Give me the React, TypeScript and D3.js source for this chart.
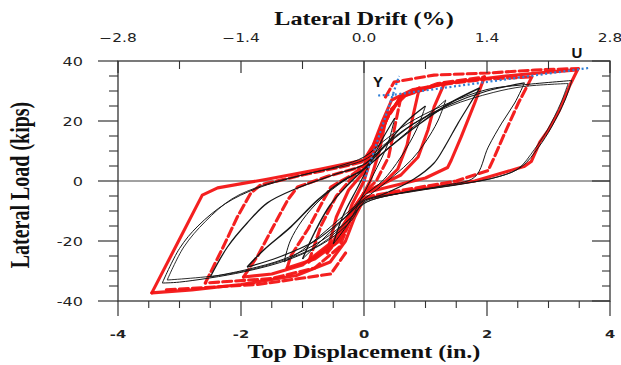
import * as d3 from 'd3'

type Pt = [number, number]

// axis ticks
const dispTicks = [-4, -2, 0, 2, 4]
const dispMinor = [-3.5, -3, -2.5, -1.5, -1, -0.5, 0.5, 1, 1.5, 2.5, 3, 3.5]
const driftTicks = [-2.8, -1.4, 0, 1.4, 2.8]
const driftMinor = [-2.1, -0.7, 0.7, 2.1]
const loadTicks = [-40, -20, 0, 20, 40]
const loadMinor = [-35, -30, -25, -15, -10, -5, 5, 10, 15, 25, 30, 35]

// analytical (black) branches: [disp in., load kips]
const bUp335: Pt[] = [[-3.28, -34], [-3.0, -22.5], [-2.7, -15], [-2.25, -7.5], [-1.75, -2.5], [-1.0, 2], [-0.4, 5], [0, 8], [0.3, 13], [0.7, 19], [1.3, 25.3], [2.0, 30.5], [2.56, 32], [3.38, 33.5]]
const bDown335: Pt[] = [[3.38, 33.5], [3.27, 27], [3.05, 18], [2.84, 11.3], [2.56, 4.7], [2.2, 1.5], [1.6, -1], [0.8, -3.5], [0, -7], [-0.2, -13], [-0.6, -20], [-1.2, -26], [-1.96, -30.3], [-3.0, -33.7], [-3.28, -34]]
const bUp335b: Pt[] = [[-3.2, -33], [-2.93, -22], [-2.58, -13.5], [-2.15, -6], [-1.65, -1.5], [-0.9, 2.5], [0, 7], [0.35, 12.5], [0.8, 19], [1.4, 25], [2.1, 29.5], [2.6, 31.5], [3.32, 32.5]]
const bDown335b: Pt[] = [[3.32, 32.5], [3.2, 26], [2.98, 17], [2.77, 10.5], [2.5, 4], [2.1, 1], [1.4, -1.5], [0.6, -4], [0, -7.5], [-0.25, -13], [-0.7, -21], [-1.4, -27], [-2.2, -31], [-3.2, -33]]
const bUp26: Pt[] = [[-2.5, -32], [-2.22, -22], [-1.9, -14], [-1.57, -7.3], [-1.1, -2.5], [-0.5, 2], [0, 5.5], [0.3, 11], [0.8, 19], [1.4, 25.5], [2.0, 30], [2.61, 32.7]]
const bDown26: Pt[] = [[2.61, 32.7], [2.45, 26], [2.24, 19.3], [2.02, 11.3], [1.8, 1.3], [1.3, -1.5], [0.6, -4], [0, -7.5], [-0.2, -12], [-0.7, -20], [-1.3, -26], [-1.9, -29.5], [-2.5, -32]]
const bUp19: Pt[] = [[-1.9, -28.7], [-1.63, -23], [-1.19, -15.3], [-0.75, -6.3], [-0.33, 0.3], [0, 4], [0.4, 11], [0.9, 19], [1.4, 26], [1.88, 31]]
const bDown19: Pt[] = [[1.88, 31], [1.7, 25], [1.53, 19.3], [1.31, 11.3], [1.14, 6], [0.8, 0.5], [0.3, -4.5], [0, -6.5], [-0.3, -12], [-0.8, -20], [-1.4, -25.5], [-1.9, -28.7]]
const bUp13: Pt[] = [[-1.3, -27], [-1.2, -20], [-1.0, -13], [-0.7, -6], [-0.33, 0], [0, 4], [0.4, 11], [0.8, 18], [1.1, 23], [1.33, 27]]
const bDown13: Pt[] = [[1.33, 27], [1.2, 20], [1.0, 13], [0.77, 7], [0.5, 2], [0.2, -3], [0, -6], [-0.3, -11], [-0.7, -18], [-1.0, -23], [-1.3, -27]]
const bUp10: Pt[] = [[-1.0, -26], [-0.8, -17], [-0.55, -8], [-0.25, -1], [0, 4], [0.35, 12], [0.7, 20], [1.0, 25]]
const bDown10: Pt[] = [[1.0, 25], [0.85, 17], [0.6, 8], [0.3, 0], [0, -5], [-0.3, -12], [-0.65, -19], [-1.0, -26]]
const bUp05: Pt[] = [[-0.5, -21], [-0.35, -12], [-0.1, -2], [0.1, 6], [0.3, 14], [0.5, 21]]
const bDown05: Pt[] = [[0.5, 21], [0.38, 12], [0.15, 2], [-0.05, -6], [-0.25, -14], [-0.5, -21]]

// experimental (red) branches
const rUp345: Pt[] = [[-3.45, -37.3], [-3.04, -21], [-2.63, -4.7], [-2.38, -2.3], [-1.6, 0.5], [-0.7, 4], [0, 7], [0.15, 12], [0.3, 20], [0.45, 27], [0.8, 30.5], [1.5, 33], [2.3, 35], [3.0, 36.3], [3.47, 37]]
const rDown345: Pt[] = [[3.47, 37], [3.35, 32], [3.18, 23.7], [3.0, 17], [2.86, 13], [2.72, 6.5], [2.6, 4.8], [1.8, 0], [0.8, -3], [0, -6], [-0.15, -12], [-0.3, -20], [-0.55, -27], [-1.1, -31.5], [-2.0, -34.5], [-2.8, -36.3], [-3.45, -37.3]]
const rUp27: Pt[] = [[-2.58, -34], [-2.29, -22], [-2.06, -12], [-1.84, -4], [-1.68, -1.3], [-1.0, 2], [-0.3, 5], [0, 6.5], [0.2, 13], [0.4, 22], [0.6, 28], [1.2, 32], [2.0, 34], [2.73, 34.7]]
const rDown27: Pt[] = [[2.73, 34.7], [2.51, 26], [2.29, 16], [2.12, 8], [2.02, 3.5], [1.5, 0], [0.5, -3.5], [0, -5.5], [-0.2, -12], [-0.4, -22], [-0.8, -29], [-1.5, -32.5], [-2.58, -34]]
const rUp196: Pt[] = [[-1.96, -32], [-1.73, -25], [-1.47, -15], [-1.24, -6.3], [-1.08, -2], [-0.6, 1.5], [0, 5], [0.2, 12], [0.35, 20], [0.6, 28], [1.2, 32.5], [1.96, 34.7]]
const rDown196: Pt[] = [[1.96, 34.7], [1.8, 26], [1.58, 14.7], [1.42, 7], [1.36, 4.5], [1.0, 1], [0.4, -2], [0, -4], [-0.2, -10], [-0.5, -20], [-1.0, -28], [-1.5, -31], [-1.96, -32]]
const rUp13: Pt[] = [[-1.25, -29], [-1.19, -25], [-0.91, -16], [-0.65, -6], [-0.54, -2], [-0.2, 2], [0, 5], [0.2, 14], [0.4, 23], [0.7, 29], [1.31, 32.7]]
const rDown13: Pt[] = [[1.31, 32.7], [1.14, 24.7], [1.04, 17], [0.88, 8], [0.6, 2], [0.2, -2], [0, -4], [-0.15, -10], [-0.4, -20], [-0.8, -26], [-1.25, -29]]
const rUp09: Pt[] = [[-0.9, -27], [-0.7, -15], [-0.45, -5], [-0.2, 1], [0, 4], [0.2, 13], [0.4, 22], [0.6, 28], [0.9, 31]]
const rDown09: Pt[] = [[0.9, 31], [0.8, 22], [0.7, 12], [0.55, 4], [0.3, -1], [0, -4], [-0.2, -10], [-0.45, -20], [-0.9, -27]]
const rUp06: Pt[] = [[-0.6, -24], [-0.45, -12], [-0.25, -3], [0, 3], [0.2, 12], [0.4, 22], [0.6, 28]]
const rDown06: Pt[] = [[0.6, 28], [0.5, 18], [0.4, 8], [0.2, 0], [0, -4], [-0.2, -12], [-0.4, -19], [-0.6, -24]]
const rUp035: Pt[] = [[-0.35, -18], [-0.2, -8], [0, 0], [0.15, 10], [0.35, 20]]
const rDown035: Pt[] = [[0.35, 20], [0.25, 10], [0.1, 0], [-0.1, -8], [-0.35, -18]]
const rTopEnv: Pt[] = [[0.35, 28], [0.49, 33], [1.14, 35.3], [2.02, 36], [2.78, 37], [3.49, 37.5]]
const rBotEnv: Pt[] = [[-0.3, -24], [-0.54, -31], [-1.73, -34.5], [-3.27, -36.3]]

// bilinear idealisation (blue dotted)
const blueElastic: Pt[] = [[0, 0], [0.57, 35]]
const blueYield: Pt[] = [[0.23, 28.5], [0.52, 28.8]]
const bluePlastic: Pt[] = [[0.5, 28.8], [3.66, 37.7]]

const blackSet = [
  { pts: bUp335, w: 1 }, { pts: bDown335, w: 1 },
  { pts: bUp335b, w: 0.9 }, { pts: bDown335b, w: 0.9 },
  { pts: bUp26, w: 1.3 }, { pts: bDown26, w: 1 },
  { pts: bUp19, w: 1.5 }, { pts: bDown19, w: 1.2 },
  { pts: bUp13, w: 1 }, { pts: bDown13, w: 1 },
  { pts: bUp10, w: 1.4 }, { pts: bDown10, w: 1 },
  { pts: bUp05, w: 1.2 }, { pts: bDown05, w: 1 },
]

const redSet = [
  { pts: rUp345, dash: false }, { pts: rDown345, dash: false },
  { pts: rUp27, dash: true }, { pts: rDown27, dash: true },
  { pts: rUp196, dash: true }, { pts: rDown196, dash: false },
  { pts: rUp13, dash: true }, { pts: rDown13, dash: false },
  { pts: rUp09, dash: true }, { pts: rDown09, dash: false },
  { pts: rUp06, dash: false }, { pts: rDown06, dash: true },
  { pts: rUp035, dash: false }, { pts: rDown035, dash: false },
  { pts: rTopEnv, dash: true }, { pts: rBotEnv, dash: true },
]

const W = 621
const H = 365
const L0 = 118, R0 = 610, T0 = 61, B0 = 301
const SX = 1.34 // text in the figure is stretched horizontally

export default function App() {
  const x = d3.scaleLinear().domain([-4, 4]).range([L0, R0])
  const xTop = d3.scaleLinear().domain([-2.8, 2.8]).range([L0, R0])
  const y = d3.scaleLinear().domain([-40, 40]).range([B0, T0])

  // analytical curves are smooth, test traces are angular
  const smooth = d3.line<Pt>()
    .x(d => x(d[0]))
    .y(d => y(d[1]))
    .curve(d3.curveCatmullRom.alpha(0.5))
  const straight = d3.line<Pt>().x(d => x(d[0])).y(d => y(d[1]))

  const axisColor = '#333'
  const red = '#f31414'
  const blue = '#2f7fd6'
  const fmt1 = d3.format('.1f')

  return (
    <svg width={W} height={H} viewBox={`0 0 ${W} ${H}`}
      style={{ position: 'fixed', left: 0, top: 0, background: '#fff' }}>
      <rect x={0} y={0} width={W} height={H} fill="#fff" />

      {/* zero lines */}
      <line x1={L0} x2={R0} y1={y(0)} y2={y(0)} stroke="#444" strokeWidth={1} />
      <line x1={x(0)} x2={x(0)} y1={T0} y2={B0} stroke="#444" strokeWidth={1} />

      {/* experimental */}
      {redSet.map((s, i) => (
        <path key={'r' + i} d={straight(s.pts) || ''} fill="none" stroke={red}
          strokeWidth={3.1} strokeDasharray={s.dash ? '9,4' : undefined}
          strokeLinejoin="round" strokeLinecap="round" opacity={0.95} />
      ))}

      {/* analytical */}
      {blackSet.map((s, i) => (
        <path key={'b' + i} d={smooth(s.pts) || ''} fill="none" stroke="#161616"
          strokeWidth={s.w} strokeLinejoin="round" />
      ))}

      {/* bilinear */}
      {[blueElastic, blueYield, bluePlastic].map((p, i) => (
        <path key={'bl' + i} d={straight(p) || ''} fill="none" stroke={blue}
          strokeWidth={2.2} strokeDasharray="2,2.6" />
      ))}
      <text x={378} y={87} textAnchor="middle" fontFamily="Liberation Sans, Arial, sans-serif"
        fontWeight="bold" fontSize={15} fill="#111">Y</text>
      <text x={577} y={58} textAnchor="middle" fontFamily="Liberation Sans, Arial, sans-serif"
        fontWeight="bold" fontSize={15} fill="#111">U</text>

      {/* frame */}
      <rect x={L0} y={T0} width={R0 - L0} height={B0 - T0} fill="none" stroke={axisColor} strokeWidth={1.3} />

      {/* left ticks (outward) */}
      {loadTicks.map(t => (
        <line key={'lt' + t} x1={L0 - 20} x2={L0} y1={y(t)} y2={y(t)} stroke={axisColor} strokeWidth={1.2} />
      ))}
      {loadMinor.map(t => (
        <line key={'lm' + t} x1={L0 - 9} x2={L0} y1={y(t)} y2={y(t)} stroke={axisColor} strokeWidth={1.1} />
      ))}
      {/* right ticks (inward) */}
      {loadTicks.map(t => (
        <line key={'rt' + t} x1={R0 - 18} x2={R0} y1={y(t)} y2={y(t)} stroke={axisColor} strokeWidth={1.2} />
      ))}
      {loadMinor.map(t => (
        <line key={'rm' + t} x1={R0 - 8} x2={R0} y1={y(t)} y2={y(t)} stroke={axisColor} strokeWidth={1.1} />
      ))}
      {/* bottom ticks (outward) */}
      {dispTicks.map(t => (
        <line key={'bt' + t} x1={x(t)} x2={x(t)} y1={B0} y2={B0 + 15} stroke={axisColor} strokeWidth={1.2} />
      ))}
      {dispMinor.map(t => (
        <line key={'bm' + t} x1={x(t)} x2={x(t)} y1={B0} y2={B0 + 7} stroke={axisColor} strokeWidth={1.1} />
      ))}
      {/* top ticks (inward) */}
      {driftTicks.map(t => (
        <line key={'tt' + t} x1={xTop(t)} x2={xTop(t)} y1={T0} y2={T0 + 12} stroke={axisColor} strokeWidth={1.2} />
      ))}
      {driftMinor.map(t => (
        <line key={'tm' + t} x1={xTop(t)} x2={xTop(t)} y1={T0} y2={T0 + 8} stroke={axisColor} strokeWidth={1.1} />
      ))}

      {/* tick labels */}
      {loadTicks.map(t => (
        <text key={'ll' + t} transform={`translate(${L0 - 35},${y(t) + 4.5}) scale(${SX},1)`}
          textAnchor="end" fontFamily="DejaVu Sans, sans-serif" fontSize={12} fill="#222">{t}</text>
      ))}
      {dispTicks.map(t => (
        <text key={'bl' + t} transform={`translate(${x(t)},${B0 + 37}) scale(${SX},1)`}
          textAnchor="middle" fontFamily="DejaVu Sans, sans-serif" fontWeight="bold" fontSize={11} fill="#222">{t}</text>
      ))}
      {driftTicks.map(t => (
        <text key={'tl' + t} transform={`translate(${xTop(t)},${T0 - 19}) scale(${SX},1)`}
          textAnchor="middle" fontFamily="DejaVu Sans, sans-serif" fontSize={11.5} fill="#222">{fmt1(t)}</text>
      ))}

      {/* titles */}
      <text transform={`translate(${x(0)},25) scale(${SX},1)`} textAnchor="middle"
        fontFamily="Liberation Serif, Times New Roman, serif" fontWeight="bold" fontSize={18} fill="#111">
        Lateral Drift (%)
      </text>
      <text transform={`translate(${x(0)},358) scale(${SX},1)`} textAnchor="middle"
        fontFamily="Liberation Serif, Times New Roman, serif" fontWeight="bold" fontSize={18} fill="#111">
        Top Displacement (in.)
      </text>
      <text transform={`translate(29,185) scale(${SX},1) rotate(-90)`} textAnchor="middle"
        fontFamily="Liberation Serif, Times New Roman, serif" fontWeight="bold" fontSize={20} fill="#111">
        Lateral Load (kips)
      </text>
    </svg>
  )
}
